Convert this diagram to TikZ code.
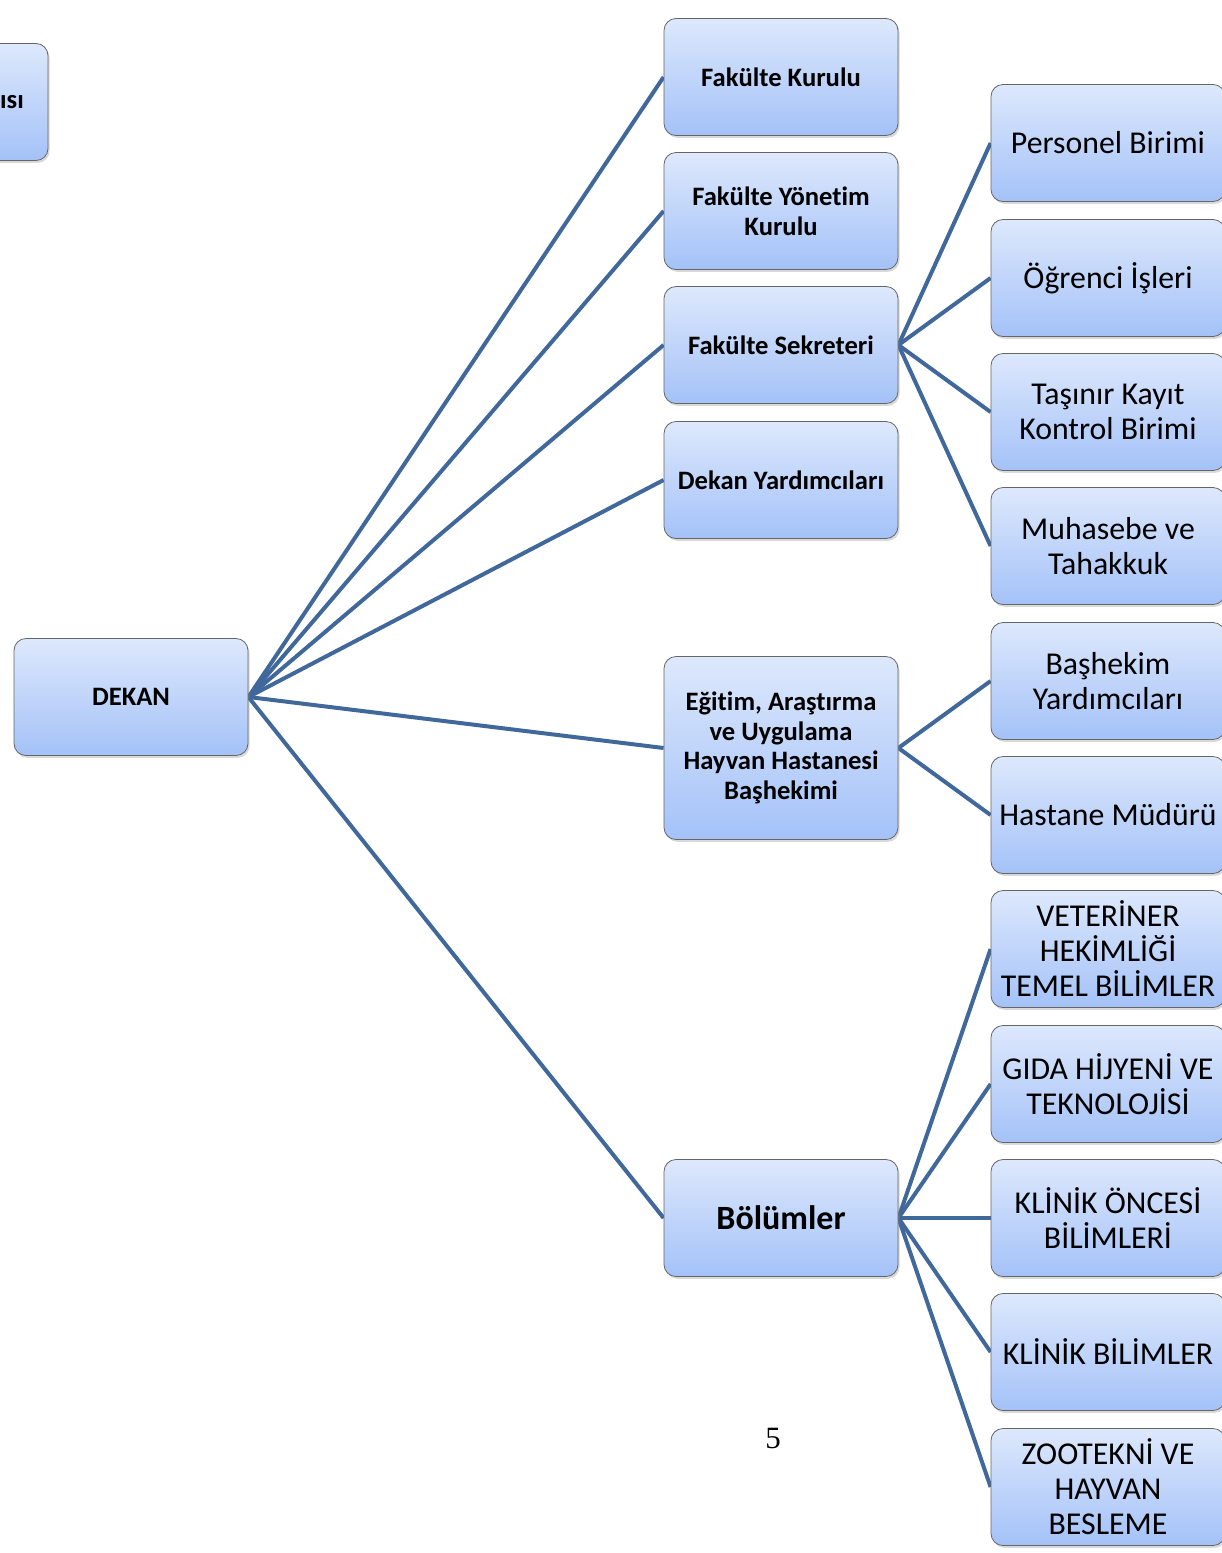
\documentclass[tikz,border=0pt]{standalone}
\usepackage{fontspec}
\setmainfont{Carlito}[RawFeature=-liga]
\newfontfamily\pagefont{Liberation Serif}
\usetikzlibrary{shadows,backgrounds}

\definecolor{boxtop}{RGB}{221,232,252}
\definecolor{boxbottom}{RGB}{164,194,248}
\definecolor{linkblue}{RGB}{65,104,154}

\tikzset{
  unitbox/.style={draw=black!60, rounded corners=6pt, minimum width=117pt, minimum height=58.5pt,
    top color=boxtop, bottom color=boxbottom, align=center, inner sep=2pt,
    drop shadow={opacity=0.3, shadow xshift=0.8pt, shadow yshift=-1.2pt}},
  midbox/.style={unitbox, font=\fontsize{13.3}{14.85}\selectfont\bfseries},
  subbox/.style={unitbox, font=\fontsize{15.9}{17.5}\selectfont},
  link/.style={draw=linkblue, line width=2pt}
}

\begin{document}
\begin{tikzpicture}[x=0.5pt, y=-0.5pt]
        \useasboundingbox (0,0) rectangle (1221,1553);

        % left column
        \node[unitbox] (cutbox) at (-69,102) {};
        \node[font=\fontsize{13.3}{14.85}\selectfont\bfseries, inner sep=0pt] (cutlabel) at (12,102) {ısı};
        \node[midbox] (dekan) at (131,697) {DEKAN};

        % middle column
        \node[midbox] (fkurul) at (781,77) {Fakülte Kurulu};
        \node[midbox] (fyonetim) at (781,211) {Fakülte Yönetim\\Kurulu};
        \node[midbox] (fsekreter) at (781,345) {Fakülte Sekreteri};
        \node[midbox] (dyardimci) at (781,480) {Dekan Yardımcıları};
        \node[midbox, minimum height=91.5pt] (hastane) at (781,748) {Eğitim, Araştırma\\ve Uygulama\\Hayvan Hastanesi\\Başhekimi};
        \node[midbox, font=\fontsize{17}{20}\selectfont\bfseries] (bolumler) at (781,1218) {Bölümler};

        % right column
        \node[subbox] (personel) at (1108,143) {Personel Birimi};
        \node[subbox] (ogrenci) at (1108,278) {Öğrenci İşleri};
        \node[subbox] (tasinir) at (1108,412) {Taşınır Kayıt\\Kontrol Birimi};
        \node[subbox] (muhasebe) at (1108,546) {Muhasebe ve\\Tahakkuk};
        \node[subbox] (bashekimy) at (1108,681) {Başhekim\\Yardımcıları};
        \node[subbox] (hmudur) at (1108,815) {Hastane Müdürü};
        \node[subbox] (temel) at (1108,949) {VETERİNER\\HEKİMLİĞİ\\TEMEL BİLİMLER};
        \node[subbox] (gida) at (1108,1084) {GIDA HİJYENİ VE\\TEKNOLOJİSİ};
        \node[subbox] (oncesi) at (1108,1218) {KLİNİK ÖNCESİ\\BİLİMLERİ};
        \node[subbox] (klinik) at (1108,1352) {KLİNİK BİLİMLER};
        \node[subbox] (zootekni) at (1108,1487) {ZOOTEKNİ VE\\HAYVAN\\BESLEME};

        \node[font=\pagefont\fontsize{15.5}{18}\selectfont] (pageno) at (773,1438) {5};

        \begin{scope}[on background layer]
        \draw[link] (dekan.east) -- (fkurul.west);
        \draw[link] (dekan.east) -- (fyonetim.west);
        \draw[link] (dekan.east) -- (fsekreter.west);
        \draw[link] (dekan.east) -- (dyardimci.west);
        \draw[link] (dekan.east) -- (hastane.west);
        \draw[link] (dekan.east) -- (bolumler.west);

        \draw[link] (fsekreter.east) -- (personel.west);
        \draw[link] (fsekreter.east) -- (ogrenci.west);
        \draw[link] (fsekreter.east) -- (tasinir.west);
        \draw[link] (fsekreter.east) -- (muhasebe.west);

        \draw[link] (hastane.east) -- (bashekimy.west);
        \draw[link] (hastane.east) -- (hmudur.west);

        \draw[link] (bolumler.east) -- (temel.west);
        \draw[link] (bolumler.east) -- (gida.west);
        \draw[link] (bolumler.east) -- (oncesi.west);
        \draw[link] (bolumler.east) -- (klinik.west);
        \draw[link] (bolumler.east) -- (zootekni.west);
        \end{scope}
\end{tikzpicture}
\end{document}
